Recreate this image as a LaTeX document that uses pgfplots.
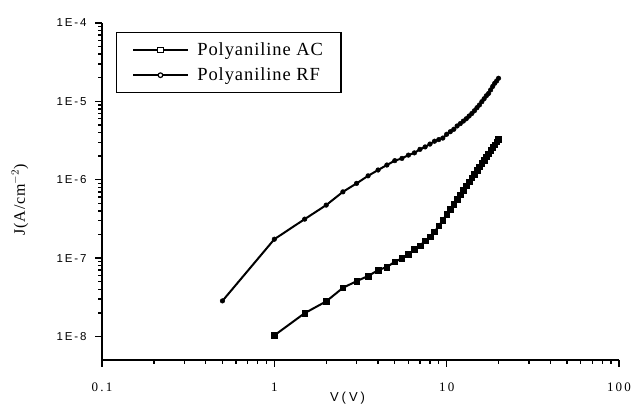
\documentclass[border=0pt]{standalone}
\usepackage{fontspec}
\setmainfont{Liberation Serif}
\setsansfont{Liberation Sans}
\usepackage{pgfplots}
\pgfplotsset{compat=1.18}

% AC sample (squares)
\pgfplotstableread{
V J
1 1.03e-8
1.5 1.98e-8
2 2.8e-8
2.5 4.17e-8
3 5.07e-8
3.5 5.9e-8
4 7.0e-8
4.5 7.7e-8
5 8.95e-8
5.5 9.9e-8
6 1.12e-7
6.5 1.29e-7
7 1.43e-7
7.5 1.66e-7
8 1.86e-7
8.5 2.16e-7
9 2.57e-7
9.5 3.05e-7
10 3.6e-7
10.5 4.21e-7
11 4.88e-7
11.5 5.63e-7
12 6.45e-7
12.5 7.35e-7
13 8.33e-7
13.5 9.4e-7
14 1.056e-6
14.5 1.18e-6
15 1.317e-6
15.5 1.463e-6
16 1.62e-6
16.5 1.786e-6
17 1.965e-6
17.5 2.156e-6
18 2.36e-6
18.5 2.577e-6
19 2.806e-6
19.5 3.05e-6
20 3.31e-6
}\dataAC

% RF sample (circles)
\pgfplotstableread{
V J
0.5 2.84e-8
1 1.74e-7
1.5 3.14e-7
2 4.74e-7
2.5 7.0e-7
3 8.97e-7
3.5 1.12e-6
4 1.33e-6
4.5 1.54e-6
5 1.75e-6
5.5 1.87e-6
6 2.06e-6
6.5 2.2e-6
7 2.44e-6
7.5 2.62e-6
8 2.85e-6
8.5 3.1e-6
9 3.25e-6
9.5 3.4e-6
10 3.8e-6
10.5 4.1e-6
11 4.4e-6
11.5 4.85e-6
12 5.2e-6
12.5 5.6e-6
13 6.0e-6
13.5 6.5e-6
14 7.0e-6
14.5 7.6e-6
15 8.3e-6
15.5 9.0e-6
16 9.9e-6
16.5 1.08e-5
17 1.18e-5
17.5 1.26e-5
18 1.4e-5
18.5 1.55e-5
19 1.7e-5
19.5 1.82e-5
20 1.97e-5
}\dataRF

\begin{document}
\begin{tikzpicture}
\path[use as bounding box] (-102pt,-46pt) rectangle (530pt,360pt);
\begin{axis}[
    scale only axis,
    width=517pt, height=337pt,
    xmode=log, ymode=log,
    xmin=0.1, xmax=100,
    ymin=5e-9, ymax=1e-4,
    axis x line*=bottom, axis y line*=left,
    axis line style={line width=1.8pt},
    tick align=outside,
    major tick length=7pt, minor tick length=4pt,
    every tick/.style={black, line width=1.4pt},
    xtick={0.1,1,10,100},
    xticklabels={0.1,1,10,100},
    ytick={1e-8,1e-7,1e-6,1e-5,1e-4},
    yticklabels={1E-8,1E-7,1E-6,1E-5,1E-4},
    xticklabel style={font=\fontsize{13}{15}\selectfont\addfontfeatures{LetterSpace=17},
                      yshift=-12pt},
    yticklabel style={font=\sffamily\fontsize{11.5}{13}\selectfont\addfontfeatures{LetterSpace=16},
                      xshift=-5pt},
    xlabel={V(V)},
    ylabel={J(A/cm$^{-2}$)},
    xlabel style={font=\sffamily\fontsize{13}{15}\selectfont\addfontfeatures{LetterSpace=23},
                  at={(axis description cs:0.475,0)}, anchor=center, yshift=-38pt},
    ylabel style={font=\fontsize{16}{18}\selectfont\addfontfeatures{LetterSpace=5},
                  at={(axis description cs:0,0.475)}, anchor=center, yshift=82pt},
    legend style={at={(0.027,0.973)}, anchor=north west, draw=black, line width=1.2pt,
                  font=\fontsize{18.5}{22}\selectfont\addfontfeatures{LetterSpace=5},
                  inner xsep=16pt, inner ysep=8pt, row sep=7pt},
    legend cell align=left,
    legend image code/.code={\draw[mark repeat=2, mark phase=2, #1] plot coordinates {(0pt,0pt) (27pt,0pt) (55pt,0pt)};},
]
\addplot[black, line width=2pt, mark=square*, mark size=2.8pt, mark options={line width=0.5pt}, forget plot] table[x=V, y=J] {\dataAC};
\addplot[black, line width=2pt, mark=*, mark size=2.3pt, mark options={line width=0.5pt}, forget plot] table[x=V, y=J] {\dataRF};
\addlegendimage{black, line width=1.8pt, mark=square*, mark size=2.7pt, mark options={fill=white, line width=1.2pt}}
\addlegendentry{\hspace{6pt}Polyaniline AC\hspace{12pt}}
\addlegendimage{black, line width=1.8pt, mark=*, mark size=2.3pt, mark options={fill=white, line width=1.2pt}}
\addlegendentry{\hspace{6pt}Polyaniline RF\hspace{12pt}}
\end{axis}
\end{tikzpicture}
\end{document}
